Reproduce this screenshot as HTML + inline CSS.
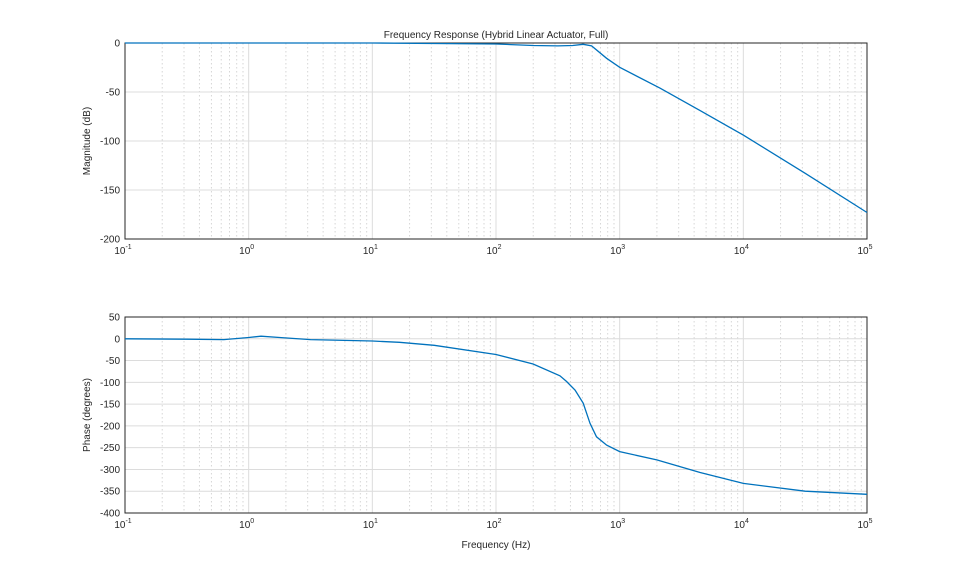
<!DOCTYPE html>
<html><head><meta charset="utf-8"><style>
body{margin:0;background:#fff;font-family:"Liberation Sans",sans-serif}
svg text{font-family:"Liberation Sans",sans-serif;font-size:10px;fill:#262626}
</style></head><body>
<svg id="c" width="959" height="577"></svg>
<script>
const magLogF=[-1,0,1,1.5,2,2.3,2.5,2.62,2.705,2.773,2.894,3,3.325,3.65,4,4.5,5];
const magDb=[0,0,0,-0.5,-1,-2.5,-3,-2.5,-1.3,-3,-15.6,-24.8,-46,-69,-94,-133,-173];
const phLogF=[-1,-0.5,-0.2,0,0.1,0.25,0.5,1,1.22,1.5,2,2.3,2.517,2.571,2.64,2.705,2.76,2.813,2.894,3,3.3,3.65,4,4.5,5];
const phDeg=[0,-1,-2,3,6,3,-2,-5,-8,-15,-36,-58,-85,-98,-118,-148,-194,-225,-244,-259,-278,-307,-332,-350,-357];
const xTicks=[-1,0,1,2,3,4,5];
const magTicks=[0,-50,-100,-150,-200];
const phTicks=[50,0,-50,-100,-150,-200,-250,-300,-350,-400];
const NS='http://www.w3.org/2000/svg',svg=document.getElementById('c');
const X0=125,X1=867;
const xs=l=>X0+(l+1)/6*(X1-X0);
function el(t,a,p){const e=document.createElementNS(NS,t);for(const k in a)e.setAttribute(k,a[k]);(p||svg).appendChild(e);return e;}
function panel(name,top,bot,ymax,ymin,ticks,lf,vals,ylab){
  const g=el('g',{});
  
  
  const ys=v=>top+(ymax-v)/(ymax-ymin)*(bot-top);
  for(let d=-1;d<5;d++)for(let m=2;m<10;m++){const x=xs(d+Math.log10(m));
    el('line',{x1:x,x2:x,y1:top,y2:bot,stroke:'#d6d6d6','stroke-dasharray':'1.5,2.5','stroke-width':1},g);}
  xTicks.forEach(t=>{const x=xs(t);el('line',{x1:x,x2:x,y1:top,y2:bot,stroke:'#dcdcdc'},g);});
  ticks.forEach(t=>{const y=ys(t);el('line',{x1:X0,x2:X1,y1:y,y2:y,stroke:'#dcdcdc'},g);
    const tx=el('text',{x:X0-5,y:y+3.5,'text-anchor':'end'},g);tx.textContent=t;});
  el('rect',{x:X0,y:top,width:X1-X0,height:bot-top,fill:'none',stroke:'#262626'},g);
  xTicks.forEach(t=>{const x=xs(t);
    const tx=el('text',{x:x-2,y:bot+15,'text-anchor':'middle'},g);
    tx.appendChild(document.createTextNode('10'));
    const s=el('tspan',{dy:-5,'font-size':'7px'},tx);s.textContent=t;});
  let d='';lf.forEach((l,i)=>{d+=(i?'L':'M')+xs(l).toFixed(1)+','+ys(vals[i]).toFixed(1);});
  const p=el('path',{d:d,fill:'none',stroke:'#0072bd','stroke-width':1.3},g);
  
  
  const yl=el('text',{x:0,y:0,'text-anchor':'middle',transform:`translate(90,${(top+bot)/2}) rotate(-90)`,'font-size':'11px'},g);
  yl.textContent=ylab;
  
  
}
panel('magnitude-panel',43,239,0,-200,magTicks,magLogF,magDb,'Magnitude (dB)');
panel('phase-panel',317,513,50,-400,phTicks,phLogF,phDeg,'Phase (degrees)');
const t=el('text',{x:496,y:38,'text-anchor':'middle','font-size':'11px'});t.textContent='Frequency Response (Hybrid Linear Actuator, Full)';


const xl=el('text',{x:496,y:548,'text-anchor':'middle','font-size':'11px'});xl.textContent='Frequency (Hz)';


</script>
</body></html>
